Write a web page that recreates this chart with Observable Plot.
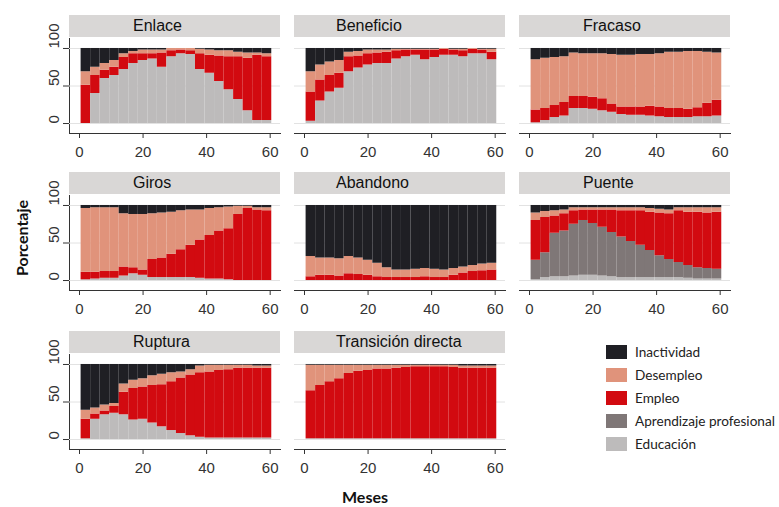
<!DOCTYPE html>
<html>
<head>
<meta charset="utf-8">
<script src="https://cdn.jsdelivr.net/npm/d3@7"></script>
<script src="https://cdn.jsdelivr.net/npm/@observablehq/plot@0.6"></script>
<style>
  body { margin: 0; background: #fff; }
  #chart { position: relative; width: 779px; height: 507px; background: #fff; overflow: hidden; font-family: "Liberation Sans", Arial, sans-serif; }
  .panel { position: absolute; }
  .strip { position: absolute; background: #d9d7d6; }
  .strip span { position: absolute; top: 50%; transform: translateY(-50%); font-size: 16px; color: #111; white-space: nowrap; }
  .legend { position: absolute; left: 606px; top: 345px; font-family: Lato, "Open Sans", sans-serif; font-size: 13.6px; color: #222; }
  .legend .row { position: absolute; left: 0; height: 14px; white-space: nowrap; }
  .legend .sw { position: absolute; left: 0; top: 0; width: 21px; height: 14px; }
  .legend .lb { position: absolute; left: 29px; top: 50%; transform: translateY(-50%); }
  .ytitle { position: absolute; left: 21px; top: 238px; transform: translate(-50%, -50%) rotate(-90deg); font-family: Lato, sans-serif; font-weight: bold; font-size: 16px; color: #111; white-space: nowrap; }
  .xtitle { position: absolute; left: 365px; top: 496px; transform: translate(-50%, -50%); font-family: Lato, sans-serif; font-weight: bold; font-size: 16px; color: #111; }
</style>
</head>
<body>
<div id="chart"></div>
<script>
// ---- Data (percentages, every 3 months) ----
const months = [1,4,7,10,13,16,19,22,25,28,31,34,37,40,43,46,49,52,55,58];
const states = ["Educación", "Aprendizaje profesional", "Empleo", "Desempleo", "Inactividad"];
const stateColors = ["#bdbbbb", "#7f7777", "#d20a10", "#e0937b", "#1f1f24"];
const legendOrder = ["Inactividad", "Desempleo", "Empleo", "Aprendizaje profesional", "Educación"];
const xTicks = [0, 20, 40, 60];
const yTicks = [0, 50, 100];
const panelTitles = ["Enlace", "Beneficio", "Fracaso", "Giros", "Abandono", "Puente", "Ruptura", "Transición directa"];

const enlaceEdu = [0,40,60,64,72,80,84,86,75,89,93,92,72,67,56,45,32,17,4,4];
const enlaceEmp = [51,24,11,11,16,13,9,7,19,8,5,5,21,24,34,44,57,70,87,85];
const enlaceDes = [18,11,9,9,5,3,5,5,4,3,2,3,6,7,7,8,6,7,3,4];
const enlaceIna = [31,25,20,16,7,4,2,2,2,0,0,0,1,2,3,3,5,6,6,7];

const beneficioEdu = [3,30,42,47,69,74,78,80,80,86,89,91,85,88,91,91,89,93,93,85];
const beneficioEmp = [39,28,22,20,20,16,15,14,15,11,9,7,13,10,8,7,8,6,5,10];
const beneficioDes = [27,20,18,17,6,6,5,4,3,2,1,1,1,1,1,1,2,1,1,4];
const beneficioIna = [31,22,18,16,5,4,2,2,2,1,1,1,1,1,0,1,1,0,1,1];

const fracasoEdu = [1,4,8,10,20,20,19,17,15,12,11,11,10,9,8,8,8,9,9,10];
const fracasoEmp = [17,16,16,18,16,16,16,16,11,10,11,11,13,13,12,12,11,12,18,21];
const fracasoDes = [67,67,64,61,58,57,58,60,66,69,69,70,69,71,75,75,77,75,68,63];
const fracasoIna = [15,13,12,11,6,7,7,7,8,9,9,8,8,7,5,5,4,4,5,6];

const girosEdu = [1,2,3,3,6,9,7,4,4,4,4,4,3,2,2,1,0,0,0,0];
const girosEmp = [10,9,9,9,12,8,7,24,26,31,37,43,51,58,64,68,88,96,94,93];
const girosDes = [85,86,85,85,71,71,74,61,60,56,52,47,40,36,31,29,11,3,3,4];
const girosIna = [4,3,3,3,11,12,12,11,10,9,7,6,6,4,3,2,1,1,3,3];

const abandonoEmp = [5,7,7,6,9,8,7,5,4,4,4,4,5,4,4,7,10,12,13,14];
const abandonoDes = [27,23,23,23,23,22,20,18,13,10,10,11,11,11,10,9,8,8,9,9];
const abandonoIna = [68,70,70,71,68,70,73,77,83,86,86,85,84,85,86,84,82,80,78,77];

const puenteEdu = [1,4,5,5,6,7,7,6,5,4,4,4,4,4,4,4,3,2,2,2];
const puenteApr = [26,33,58,61,69,73,69,65,59,54,48,43,36,29,24,20,17,15,14,13];
const puenteEmp = [53,47,23,23,18,14,18,23,30,35,41,46,51,57,61,69,71,74,74,76];
const puenteDes = [10,8,7,5,4,3,3,3,3,4,4,4,5,5,5,4,6,6,7,6];
const puenteIna = [10,8,7,6,3,3,3,3,3,3,3,3,4,5,6,3,3,3,3,3];

const rupturaEdu = [1,27,33,35,33,26,27,22,17,12,8,5,3,2,2,2,2,2,2,2];
const rupturaEmp = [26,7,5,9,30,42,43,50,56,65,74,81,86,88,90,91,93,93,93,93];
const rupturaDes = [12,8,8,4,11,11,11,13,14,12,8,7,9,9,7,6,4,4,3,3];
const rupturaIna = [61,58,54,52,26,21,19,15,13,11,10,7,2,1,1,1,1,1,2,2];

const directaEdu = [1,1,1,1,1,1,1,1,1,1,1,1,1,1,1,1,1,1,1,1];
const directaEmp = [64,71,76,80,87,90,91,93,93,94,95,96,96,96,96,95,94,94,94,94];
const directaDes = [34,27,22,18,11,8,7,5,5,4,3,2,2,2,2,3,3,3,3,3];
const directaIna = [1,1,1,1,1,1,1,1,1,1,1,1,1,1,1,1,2,2,2,2];

// state -> series, per panel (missing state = 0)
const panelSeries = [
  {"Educación": enlaceEdu, "Empleo": enlaceEmp, "Desempleo": enlaceDes, "Inactividad": enlaceIna},
  {"Educación": beneficioEdu, "Empleo": beneficioEmp, "Desempleo": beneficioDes, "Inactividad": beneficioIna},
  {"Educación": fracasoEdu, "Empleo": fracasoEmp, "Desempleo": fracasoDes, "Inactividad": fracasoIna},
  {"Educación": girosEdu, "Empleo": girosEmp, "Desempleo": girosDes, "Inactividad": girosIna},
  {"Empleo": abandonoEmp, "Desempleo": abandonoDes, "Inactividad": abandonoIna},
  {"Educación": puenteEdu, "Aprendizaje profesional": puenteApr, "Empleo": puenteEmp, "Desempleo": puenteDes, "Inactividad": puenteIna},
  {"Educación": rupturaEdu, "Empleo": rupturaEmp, "Desempleo": rupturaDes, "Inactividad": rupturaIna},
  {"Educación": directaEdu, "Empleo": directaEmp, "Desempleo": directaDes, "Inactividad": directaIna}
];

// ---- Layout ----
const colFrameLeft = [69, 294, 519];
const rowFrameTop = [38, 195, 354];
const frameW = 211, frameH = 95;
const titleLeft = [133, 336, 583];
const mL = 29, mR = 6, mT = 5, mB = 32;

const chart = document.getElementById("chart");

panelTitles.forEach((title, i) => {
  const c = i % 3, r = Math.floor(i / 3);
  const series = panelSeries[i];
  const rows = [];
  months.forEach((m, j) => {
    states.forEach(s => {
      if (series[s]) rows.push({m, s, v: series[s][j]});
    });
  });

  const svg = Plot.plot({
    width: mL + frameW + mR,
    height: mT + frameH + mB,
    marginLeft: mL, marginRight: mR, marginTop: mT, marginBottom: mB,
    style: {background: "transparent", fontFamily: "'Liberation Sans', Arial, sans-serif", fontSize: "15px", color: "#333", overflow: "visible"},
    x: {domain: [-3.15, 63.25], ticks: xTicks, tickSize: 5, tickPadding: 8, tickFormat: d => String(d), line: true, label: null},
    y: {domain: [-13.3, 113.3], axis: c === 0 ? "left" : null, ticks: yTicks, tickSize: 6, tickFormat: () => "", line: true, label: null},
    color: {domain: states, range: stateColors},
    marks: [
      Plot.ruleY(yTicks, {stroke: "#e2e2e2", strokeWidth: 1}),
      Plot.rectY(rows, {x1: d => d.m - 0.5, x2: d => d.m + 2.5, y: "v", fill: "s"}),
      c === 0 ? Plot.text(yTicks, {y: d => d, text: d => String(d), frameAnchor: "left", dx: -15, rotate: -90, fontSize: 15, fill: "#333"}) : null
    ]
  });
  const wrap = document.createElement("div");
  wrap.className = "panel";
  wrap.style.left = (colFrameLeft[c] - mL) + "px";
  wrap.style.top = (rowFrameTop[r] - mT) + "px";
  wrap.appendChild(svg);
  chart.appendChild(wrap);

  const strip = document.createElement("div");
  strip.className = "strip";
  strip.style.left = colFrameLeft[c] + "px";
  strip.style.top = (rowFrameTop[r] - 23) + "px";
  strip.style.width = frameW + "px";
  strip.style.height = "22px";
  const sp = document.createElement("span");
  sp.textContent = title;
  sp.style.left = (titleLeft[c] - colFrameLeft[c]) + "px";
  strip.appendChild(sp);
  chart.appendChild(strip);
});

// Legend
const legend = document.createElement("div");
legend.className = "legend";
legendOrder.forEach((s, i) => {
  const row = document.createElement("div");
  row.className = "row";
  row.style.top = (i * 23) + "px";
  const sw = document.createElement("div");
  sw.className = "sw";
  sw.style.background = stateColors[states.indexOf(s)];
  const lb = document.createElement("div");
  lb.className = "lb";
  lb.textContent = s;
  row.appendChild(sw);
  row.appendChild(lb);
  legend.appendChild(row);
});
chart.appendChild(legend);

const yt = document.createElement("div");
yt.className = "ytitle";
yt.textContent = "Porcentaje";
chart.appendChild(yt);

const xt = document.createElement("div");
xt.className = "xtitle";
xt.textContent = "Meses";
chart.appendChild(xt);
</script>
</body>
</html>
